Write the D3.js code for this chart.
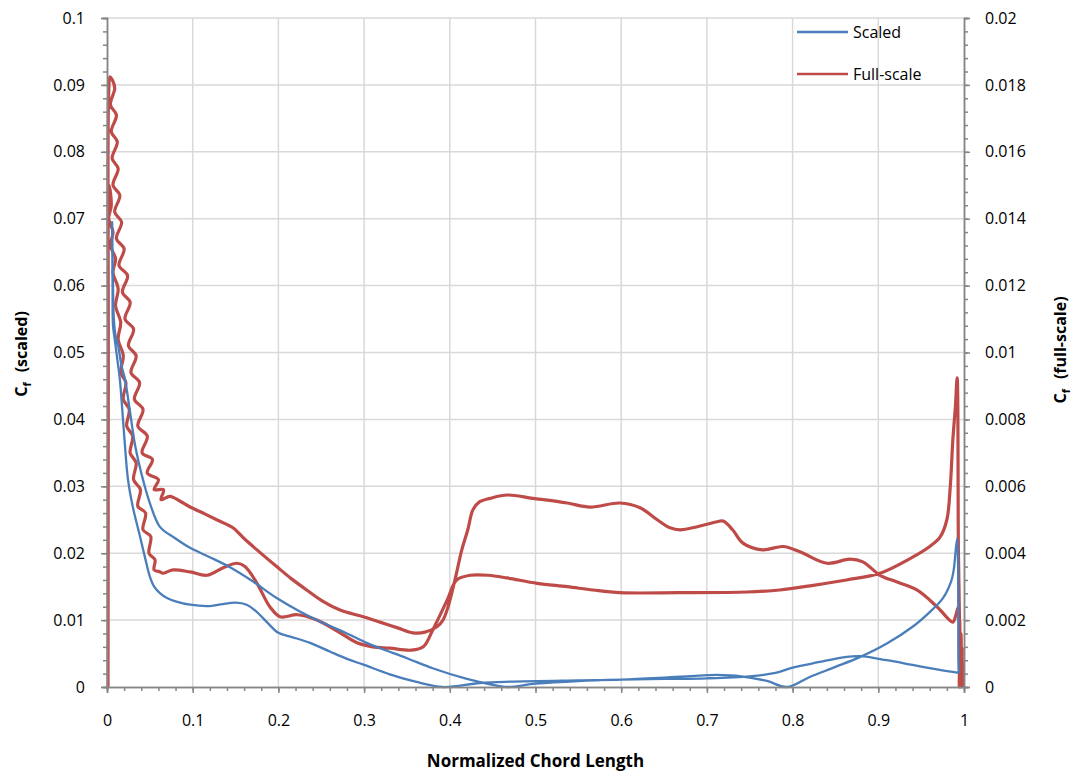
<!DOCTYPE html>
<html>
<head>
<meta charset="utf-8">
<script src="https://cdn.jsdelivr.net/npm/d3@7"></script>
<style>
  body { margin: 0; background: #fff; }
  svg { font-family: "Open Sans", "Liberation Sans", sans-serif; }
</style>
</head>
<body>
<svg></svg>
<script>
///////////////////////////////////////////
// Data
// [normalized chord, Cf]
var scaledUpper = [
  [0.006,0.0695],[0.007,0.060],[0.008,0.055],[0.010,0.0525],[0.013,0.051],[0.017,0.048],
  [0.021,0.046],[0.027,0.041],[0.033,0.036],[0.042,0.031],[0.05,0.0275],[0.062,0.0239],
  [0.08,0.0222],[0.097,0.0208],[0.12,0.0194],[0.1435,0.0179],[0.17,0.0158],[0.198,0.0133],
  [0.225,0.0113],[0.252,0.0096],[0.28,0.0080],[0.303,0.0066],[0.3186,0.0058],[0.35,0.0043],
  [0.38,0.0028],[0.42,0.0012],[0.447,0.0004],[0.467,0.0],[0.5,0.0005],[0.55,0.0009],
  [0.6,0.0011],[0.65,0.0012],[0.70,0.0013],[0.75,0.0016],[0.78,0.0021],[0.80,0.0029],
  [0.83,0.0037],[0.863,0.0045],[0.879,0.0046],[0.91,0.0040],[0.94,0.0033],[0.97,0.0026],
  [0.994,0.0021]
];
var scaledLower = [
  [0.006,0.0695],[0.0065,0.060],[0.007,0.054],[0.009,0.052],[0.012,0.049],[0.015,0.046],
  [0.0175,0.042],[0.021,0.036],[0.0245,0.031],[0.03,0.027],[0.0385,0.0225],[0.045,0.019],
  [0.05,0.0165],[0.055,0.0150],[0.062,0.0140],[0.07,0.0133],[0.08,0.0128],[0.097,0.0123],
  [0.12,0.0121],[0.135,0.0124],[0.15,0.0126],[0.163,0.0123],[0.175,0.0112],[0.188,0.0095],
  [0.2,0.0081],[0.215,0.0075],[0.237,0.0066],[0.26,0.0053],[0.28,0.0042],[0.3,0.0033],
  [0.33,0.0019],[0.36,0.0008],[0.392,0.0],[0.435,0.0006],[0.47,0.0008],[0.55,0.0010],
  [0.6,0.0011],[0.65,0.0014],[0.69,0.0017],[0.712,0.0018],[0.74,0.0016],[0.77,0.0009],
  [0.7935,0.0],[0.82,0.0015],[0.85,0.0030],[0.879,0.0045],[0.91,0.0065],[0.94,0.0090],
  [0.96,0.0112],[0.975,0.0132],[0.985,0.0158],[0.988,0.0175],[0.992,0.0222],[0.9935,0.0040],
  [0.994,0.0021]
];
var fullLower = [
  [0.0012,0.0],[0.0015,0.0090],[0.0025,0.0150],[0.005,0.0144],[0.002,0.0140],[0.007,0.0136],
  [0.004,0.0132],[0.010,0.0128],[0.007,0.0124],[0.013,0.0119],[0.010,0.0114],[0.016,0.0109],
  [0.013,0.0104],[0.019,0.0099],[0.016,0.0094],[0.022,0.0091],[0.019,0.0086],[0.026,0.0083],
  [0.023,0.0078],[0.030,0.0075],[0.027,0.0070],[0.034,0.0067],[0.031,0.0062],[0.039,0.0059],
  [0.036,0.0054],[0.045,0.0052],[0.042,0.0047],[0.051,0.0045],[0.049,0.0040],[0.056,0.0038],
  [0.055,0.0035],[0.062,0.00344],[0.065,0.0034],[0.077,0.0035],[0.097,0.00344],[0.1167,0.00334],
  [0.135,0.00356],[0.1517,0.0037],[0.161,0.0036],[0.175,0.0031],[0.19,0.0024],[0.202,0.0021],
  [0.222,0.00216],[0.245,0.0020],[0.272,0.00162],[0.2917,0.00132],[0.31,0.0012],[0.33,0.00116],
  [0.355,0.0011],[0.369,0.0012],[0.38,0.0017],[0.397,0.0026],[0.408,0.0032],[0.4236,0.00334],
  [0.445,0.00334],[0.467,0.00326],[0.502,0.0031],[0.537,0.0030],[0.567,0.0029],[0.5986,0.00282],
  [0.6686,0.00282],[0.747,0.00284],[0.785,0.0029],[0.824,0.00304],[0.863,0.0032],[0.902,0.0034],
  [0.94,0.00388],[0.96,0.0042],[0.972,0.00448],[0.98,0.0050],[0.984,0.0060],[0.987,0.0074],
  [0.990,0.0084],[0.992,0.00924],[0.9935,0.0040],[0.995,0.0016],[0.996,0.0]
];
var fullUpper = [
  [0.0012,0.0],[0.0015,0.0100],[0.002,0.0178],[0.0035,0.01824],[0.006,0.01816],
  [0.009,0.0179],[0.004,0.0174],[0.011,0.0171],[0.005,0.0166],[0.012,0.0163],[0.006,0.0158],
  [0.013,0.0155],[0.007,0.0150],[0.015,0.0147],[0.009,0.0142],[0.017,0.0139],[0.011,0.0134],
  [0.020,0.0131],[0.014,0.0126],[0.024,0.0123],[0.018,0.0118],[0.027,0.0115],[0.021,0.0110],
  [0.031,0.0107],[0.025,0.0102],[0.034,0.0099],[0.028,0.0094],[0.038,0.0091],[0.032,0.0086],
  [0.042,0.0083],[0.036,0.0078],[0.047,0.0075],[0.041,0.0070],[0.053,0.0068],[0.047,0.0064],
  [0.060,0.0062],[0.055,0.0059],[0.066,0.0059],[0.063,0.0056],[0.0735,0.0057],
  [0.085,0.00556],[0.097,0.00538],[0.112,0.0052],[0.128,0.0050],[0.147,0.00476],
  [0.16,0.00444],[0.175,0.0041],[0.198,0.0036],[0.215,0.00324],[0.233,0.0029],[0.252,0.00256],
  [0.272,0.0023],[0.299,0.0021],[0.3186,0.00194],[0.34,0.00176],[0.357,0.00162],[0.371,0.00164],
  [0.385,0.0018],[0.392,0.0020],[0.398,0.0024],[0.406,0.0032],[0.414,0.0041],[0.421,0.0047],
  [0.427,0.0053],[0.435,0.00554],[0.447,0.00564],[0.467,0.00574],[0.497,0.00564],[0.537,0.0055],
  [0.5636,0.00538],[0.5986,0.0055],[0.622,0.00536],[0.642,0.0050],[0.657,0.00476],[0.6686,0.0047],
  [0.69,0.0048],[0.712,0.00494],[0.719,0.00496],[0.73,0.0047],[0.742,0.0043],[0.765,0.0041],
  [0.789,0.0042],[0.8086,0.00404],[0.84,0.0037],[0.867,0.00382],[0.882,0.00374],[0.902,0.00334],
  [0.922,0.00314],[0.945,0.0029],[0.9685,0.0024],[0.987,0.00194],[0.990,0.0021],[0.9935,0.0024],
  [0.9945,0.0],[0.995,0.0020],[0.996,0.0],[0.9965,0.0016],[0.9975,0.0],[0.998,0.0012],[0.9985,0.0]
];

var xTicks = [0,0.1,0.2,0.3,0.4,0.5,0.6,0.7,0.8,0.9,1],
    xTickLabels = ["0","0.1","0.2","0.3","0.4","0.5","0.6","0.7","0.8","0.9","1"];
var leftTicks = [0,0.01,0.02,0.03,0.04,0.05,0.06,0.07,0.08,0.09,0.1],
    leftTickLabels = ["0","0.01","0.02","0.03","0.04","0.05","0.06","0.07","0.08","0.09","0.1"];
var rightTicks = [0,0.002,0.004,0.006,0.008,0.01,0.012,0.014,0.016,0.018,0.02],
    rightTickLabels = ["0","0.002","0.004","0.006","0.008","0.01","0.012","0.014","0.016","0.018","0.02"];

var seriesNames = ["Scaled", "Full-scale"],
    seriesColors = ["#4a7ebb", "#be4b48"];

///////////////////////////////////////////
// Layout
var svgWidth = 1075, svgHeight = 776;
var plot = {left: 107, right: 964, top: 18, bottom: 687};

var svg = d3.select("svg").attr("width", svgWidth).attr("height", svgHeight);

var x = d3.scaleLinear().domain([0, 1]).range([plot.left, plot.right]);
var yLeft = d3.scaleLinear().domain([0, 0.1]).range([plot.bottom, plot.top]);
var yRight = d3.scaleLinear().domain([0, 0.02]).range([plot.bottom, plot.top]);

var gridColor = "#d9d9d9", axisColor = "#868686";

///////////////////////////////////////////
// Gridlines
var grid = svg.append("g").classed("grid", true);
grid.selectAll("line.h").data(leftTicks.slice(1)).enter().append("line")
  .attr("x1", plot.left).attr("x2", plot.right)
  .attr("y1", function(d){ return yLeft(d); }).attr("y2", function(d){ return yLeft(d); })
  .attr("stroke", gridColor).attr("stroke-width", 1.5);
grid.selectAll("line.v").data(xTicks.slice(1, -1)).enter().append("line")
  .attr("y1", plot.top).attr("y2", plot.bottom)
  .attr("x1", function(d){ return x(d); }).attr("x2", function(d){ return x(d); })
  .attr("stroke", gridColor).attr("stroke-width", 1.5);

///////////////////////////////////////////
// Curves: one path per series, one surface reversed then the other
var curve = d3.curveCatmullRom.alpha(0.5);
var lineLeft = d3.line().curve(curve)
  .x(function(d){ return x(d[0]); }).y(function(d){ return yLeft(d[1]); });
var lineRight = d3.line().curve(curve)
  .x(function(d){ return x(d[0]); }).y(function(d){ return yRight(d[1]); });

svg.append("path")
  .datum(fullLower.slice().reverse().concat(fullUpper))
  .attr("d", lineRight)
  .attr("fill", "none").attr("stroke", seriesColors[1])
  .attr("stroke-width", 3.2).attr("stroke-linejoin", "round");

svg.append("path")
  .datum(scaledUpper.slice().reverse().concat(scaledLower))
  .attr("d", lineLeft)
  .attr("fill", "none").attr("stroke", seriesColors[0])
  .attr("stroke-width", 2.3).attr("stroke-linejoin", "round");

///////////////////////////////////////////
// Axes
function styleAxis(g) {
  g.select(".domain").attr("stroke", axisColor).attr("stroke-width", 1.5);
  g.selectAll(".tick line").attr("stroke", axisColor).attr("stroke-width", 1.5);
  g.selectAll(".tick text").attr("fill", "#000").style("font-size", "16px")
    .style("font-family", "'Open Sans', sans-serif");
}

var xMinor = d3.range(0, 1.0001, 0.02),
    leftMinor = d3.range(0, 0.10001, 0.002),
    rightMinor = d3.range(0, 0.020001, 0.0004);

svg.append("g").attr("transform", "translate(0," + plot.bottom + ")")
  .call(d3.axisBottom(x).tickValues(xMinor).tickSize(4).tickFormat(""))
  .call(styleAxis);
svg.append("g").attr("transform", "translate(0," + plot.bottom + ")")
  .call(d3.axisBottom(x).tickValues(xTicks).tickSize(6).tickPadding(22)
    .tickFormat(function(d, i){ return xTickLabels[i]; }))
  .call(styleAxis);

svg.append("g").attr("transform", "translate(" + plot.left + ",0)")
  .call(d3.axisLeft(yLeft).tickValues(leftMinor).tickSize(4).tickFormat(""))
  .call(styleAxis);
svg.append("g").attr("transform", "translate(" + plot.left + ",0)")
  .call(d3.axisLeft(yLeft).tickValues(leftTicks).tickSize(6).tickPadding(16)
    .tickFormat(function(d, i){ return leftTickLabels[i]; }))
  .call(styleAxis);

svg.append("g").attr("transform", "translate(" + plot.right + ",0)")
  .call(d3.axisRight(yRight).tickValues(rightMinor).tickSize(4).tickFormat(""))
  .call(styleAxis);
svg.append("g").attr("transform", "translate(" + plot.right + ",0)")
  .call(d3.axisRight(yRight).tickValues(rightTicks).tickSize(6).tickPadding(15)
    .tickFormat(function(d, i){ return rightTickLabels[i]; }))
  .call(styleAxis);

///////////////////////////////////////////
// Axis titles
svg.append("text")
  .attr("x", (plot.left + plot.right) / 2).attr("y", 767)
  .attr("text-anchor", "middle").style("font-size", "17px").style("font-weight", "bold")
  .text("Normalized Chord Length");

function cfTitle(cx, cy, label) {
  var t = svg.append("text")
    .attr("transform", "translate(" + cx + "," + cy + ") rotate(-90)")
    .attr("text-anchor", "middle").style("font-size", "16px").style("font-weight", "bold");
  t.append("tspan").text("C");
  t.append("tspan").attr("dy", 4).style("font-size", "11px").text("f");
  t.append("tspan").attr("dy", -4).attr("dx", 10).text(label);
}
cfTitle(27, 354, "(scaled)");
cfTitle(1066, 350, "(full-scale)");

///////////////////////////////////////////
// Legend
var legend = svg.append("g").classed("legend", true);
seriesNames.forEach(function(name, i) {
  var ly = 32 + i * 42;
  legend.append("line").attr("x1", 797).attr("x2", 848).attr("y1", ly).attr("y2", ly)
    .attr("stroke", seriesColors[i]).attr("stroke-width", 2.3);
  legend.append("text").attr("x", 853).attr("y", ly).attr("dy", "0.35em")
    .style("font-size", "16px").text(name);
});
</script>
</body>
</html>
